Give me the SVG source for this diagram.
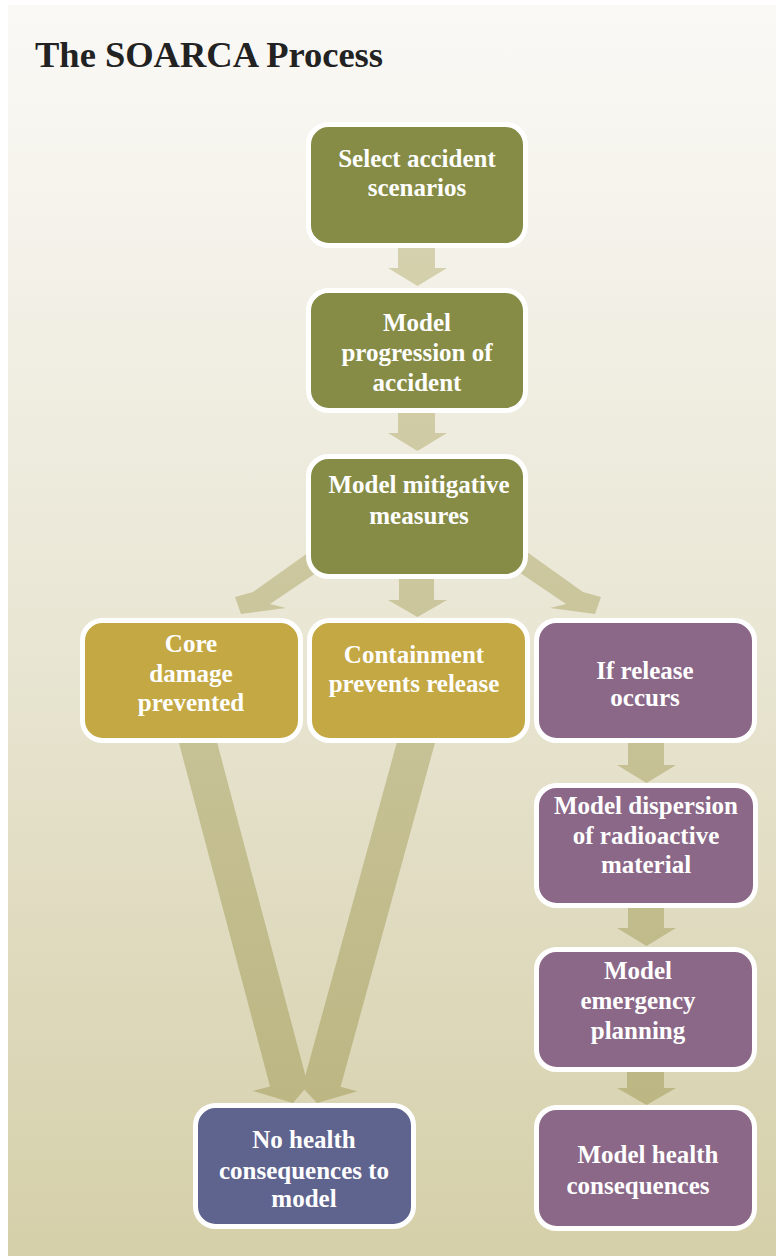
<svg xmlns="http://www.w3.org/2000/svg" width="776" height="1256" viewBox="0 0 776 1256">
<defs>
<linearGradient id="bg" x1="0" y1="0" x2="0" y2="1">
<stop offset="0" stop-color="#faf9f6"/>
<stop offset="0.5" stop-color="#e9e6d4"/>
<stop offset="1" stop-color="#d5cfa9"/>
</linearGradient>
<linearGradient id="arr" gradientUnits="userSpaceOnUse" x1="0" y1="240" x2="0" y2="1110">
<stop offset="0" stop-color="#d5d1ae"/>
<stop offset="1" stop-color="#bcb683"/>
</linearGradient>
<style>
.box{stroke:#ffffff;stroke-width:5}
.g{fill:#868c46}
.y{fill:#c4a843}
.p{fill:#8b6888}
.b{fill:#5f648e}
.t{font-family:"Liberation Serif","Times New Roman",serif;font-weight:bold;font-size:25px;fill:#ffffff;text-anchor:middle}
.arrow{fill:url(#arr)}
</style>
</defs>
<rect width="776" height="1256" fill="#ffffff"/>
<rect x="8" y="5" width="768" height="1251" fill="url(#bg)"/>
<text x="35" y="67" font-family="'Liberation Serif','Times New Roman',serif" font-weight="bold" font-size="35" fill="#222222" textLength="348" lengthAdjust="spacingAndGlyphs">The SOARCA Process</text>

<g id="connectors">
<polygon class="arrow" points="398,240 435,240 435,268 447,268 417.5,286 388,268 398,268"/>
<polygon class="arrow" points="398,405 435,405 435,433 447,433 417.5,451 388,433 398,433"/>
<polygon class="arrow" points="399,570 434,570 434,600 447,600 417.5,617 388,600 399,600"/>
<polygon class="arrow" points="340,530 253,592 235,597 241,614 286,608 270,604 350,550"/>
<polygon class="arrow" points="496,530 583,592 601,597 595,614 550,608 566,604 486,550"/>
<polygon class="arrow" points="178.1,739.7 213.9,730.3 305.8,1077 317.9,1073.8 293,1103 252.6,1090.9 270,1086.4"/>
<polygon class="arrow" points="400.2,730.1 435.8,739.9 340.6,1086.7 357.5,1091.3 317,1103 288.1,1072.3 305,1076.9"/>
<polygon class="arrow" points="628,738 664,738 664,765 676,765 646.5,783 617,765 628,765"/>
<polygon class="arrow" points="628,903 664,903 664,928 676,928 646.5,946 617,928 628,928"/>
<polygon class="arrow" points="627,1067 664,1067 664,1088 676,1088 646.5,1105 617,1088 627,1088"/>
</g>

<g id="n-select">
<rect class="box g" x="308.5" y="124.5" width="217" height="121" rx="20"/>
<text class="t" x="417" y="167">Select accident</text>
<text class="t" x="417" y="196">scenarios</text>
</g>
<g id="n-progression">
<rect class="box g" x="308.5" y="290.5" width="217" height="120" rx="20"/>
<text class="t" x="417" y="331">Model</text>
<text class="t" x="417" y="361">progression of</text>
<text class="t" x="417" y="391">accident</text>
</g>
<g id="n-mitigative">
<rect class="box g" x="308.5" y="456.5" width="217" height="120" rx="20"/>
<text class="t" x="419" y="493">Model mitigative</text>
<text class="t" x="419" y="524">measures</text>
</g>
<g id="n-core">
<rect class="box y" x="82.5" y="620.5" width="218" height="120" rx="20"/>
<text class="t" x="191" y="652">Core</text>
<text class="t" x="191" y="682">damage</text>
<text class="t" x="191" y="711">prevented</text>
</g>
<g id="n-containment">
<rect class="box y" x="309.5" y="620.5" width="218" height="120" rx="20"/>
<text class="t" x="414" y="663">Containment</text>
<text class="t" x="414" y="692">prevents release</text>
</g>
<g id="n-release">
<rect class="box p" x="536.5" y="620.5" width="218" height="120" rx="20"/>
<text class="t" x="645" y="679">If release</text>
<text class="t" x="645" y="706">occurs</text>
</g>
<g id="n-dispersion">
<rect class="box p" x="536.5" y="785.5" width="219" height="120" rx="20"/>
<text class="t" x="646" y="814">Model dispersion</text>
<text class="t" x="646" y="844">of radioactive</text>
<text class="t" x="646" y="873">material</text>
</g>
<g id="n-emergency">
<rect class="box p" x="536.5" y="949.5" width="218" height="120" rx="20"/>
<text class="t" x="638" y="979">Model</text>
<text class="t" x="638" y="1009">emergency</text>
<text class="t" x="638" y="1039">planning</text>
</g>
<g id="n-health">
<rect class="box p" x="536.5" y="1107.5" width="218" height="121" rx="20"/>
<text class="t" x="648" y="1163">Model health</text>
<text class="t" x="638" y="1194">consequences</text>
</g>
<g id="n-nohealth">
<rect class="box b" x="195.5" y="1105.5" width="218" height="121" rx="20"/>
<text class="t" x="304" y="1148">No health</text>
<text class="t" x="304" y="1179">consequences to</text>
<text class="t" x="304" y="1207">model</text>
</g>
</svg>
